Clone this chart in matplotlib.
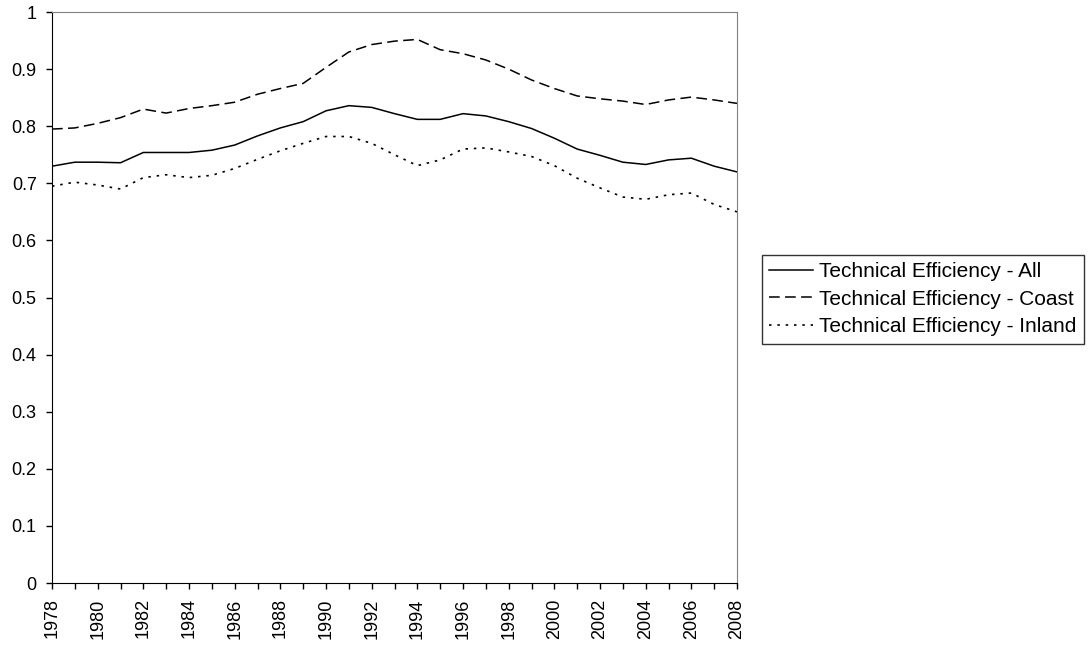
import numpy as np
import matplotlib
matplotlib.use("Agg")
from matplotlib import pyplot as plt

plt.rcParams['font.family'] = ['Liberation Sans', 'DejaVu Sans']

years = np.arange(1978, 2009)
te_all = [0.730, 0.737, 0.737, 0.736, 0.754, 0.754, 0.754, 0.758, 0.767, 0.783,
          0.797, 0.808, 0.827, 0.836, 0.833, 0.822, 0.812, 0.812, 0.822, 0.818,
          0.808, 0.796, 0.779, 0.760, 0.749, 0.737, 0.733, 0.741, 0.744, 0.730, 0.720]
te_coast = [0.795, 0.797, 0.805, 0.815, 0.830, 0.823, 0.831, 0.836, 0.842, 0.856,
            0.866, 0.875, 0.903, 0.930, 0.943, 0.949, 0.952, 0.934, 0.927, 0.916,
            0.900, 0.881, 0.866, 0.853, 0.848, 0.844, 0.838, 0.846, 0.851, 0.846, 0.840]
te_inland = [0.695, 0.702, 0.697, 0.690, 0.710, 0.715, 0.710, 0.714, 0.726, 0.742,
             0.757, 0.770, 0.782, 0.782, 0.770, 0.750, 0.731, 0.741, 0.760, 0.762,
             0.755, 0.747, 0.731, 0.709, 0.692, 0.676, 0.672, 0.680, 0.683, 0.663, 0.650]

fig = plt.figure(figsize=(10.88, 6.46), dpi=100)
ax = fig.add_axes([0.0478, 0.0975, 0.6296, 0.8839])

ax.plot(years, te_all, color='black', lw=1.1, ls='-', label='Technical Efficiency - All')
ax.plot(years, te_coast, color='black', lw=1.1, ls=(0, (7, 3.5)), label='Technical Efficiency - Coast')
ax.plot(years, te_inland, color='black', lw=1.2, ls=(0, (1.5, 3.5)), label='Technical Efficiency - Inland')

ax.set_xlim(1978, 2008)
ax.set_ylim(0, 1)
ax.set_yticks(np.arange(0, 1.01, 0.1))
ax.set_yticklabels(['0'] + ['%.1f' % v for v in np.arange(0.1, 0.95, 0.1)] + ['1'])
ax.set_xticks(years, minor=True)
ax.set_xticks(years[::2])
ax.set_xticklabels([str(y) for y in years[::2]], rotation=90)
ax.tick_params(axis='both', which='both', direction='out', length=4, width=1,
               labelsize=13, color='black', pad=7)

for s in ['top', 'right']:
    ax.spines[s].set_color('#808080')
for s in ['left', 'bottom']:
    ax.spines[s].set_color('black')

leg = ax.legend(loc='center left', bbox_to_anchor=(0.7, 0.537), bbox_transform=fig.transFigure,
                frameon=True, fancybox=False, fontsize=15, handlelength=2.1,
                handletextpad=0.3, borderpad=0.35, labelspacing=0.42, borderaxespad=0)
leg.get_frame().set_edgecolor('black')
leg.get_frame().set_linewidth(1)

fig.savefig('out.png', dpi=100)
